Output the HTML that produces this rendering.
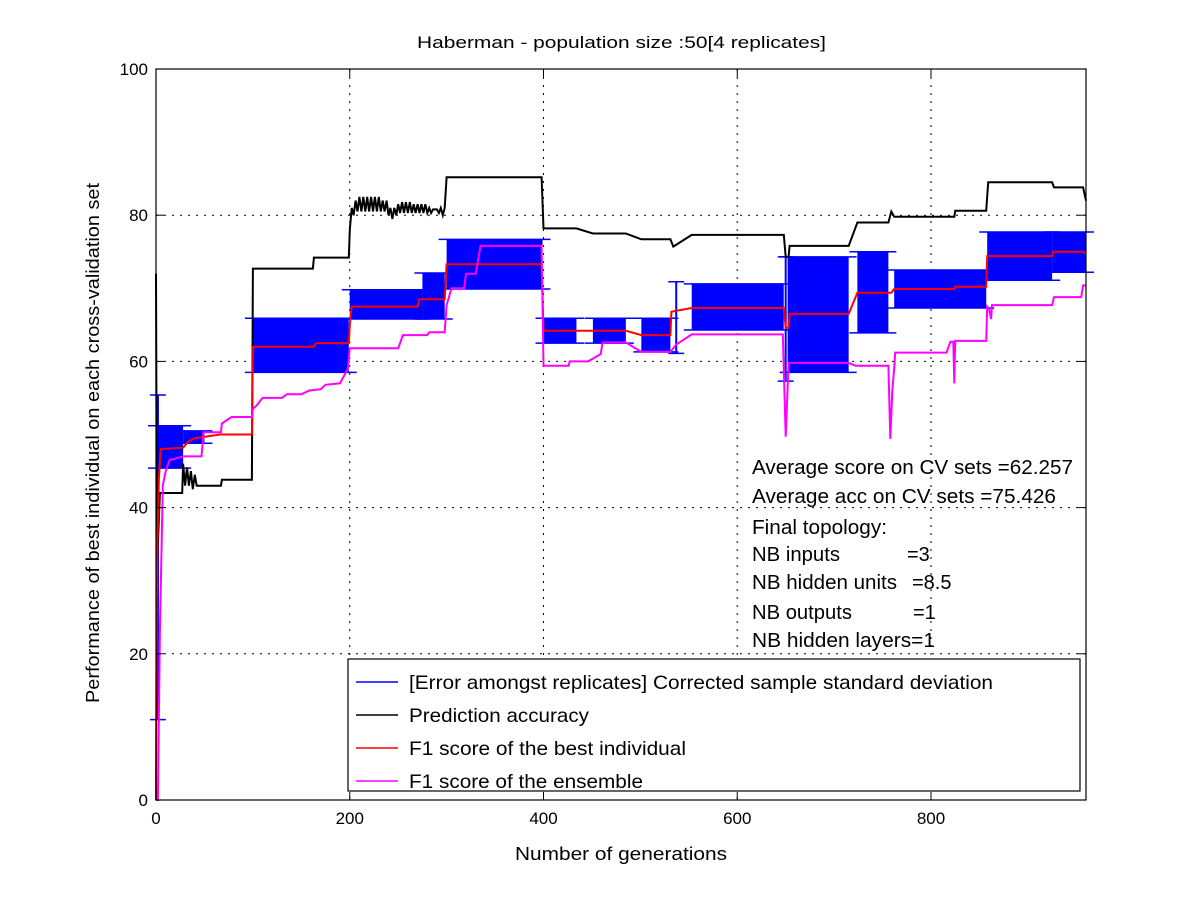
<!DOCTYPE html>
<html><head><meta charset="utf-8"><style>
html,body{margin:0;padding:0;background:#fff;}
svg{display:block;font-family:"Liberation Sans",sans-serif;}
</style></head><body>
<svg id="chart" width="1200" height="900" viewBox="0 0 1200 900" xmlns="http://www.w3.org/2000/svg">
<rect x="0" y="0" width="1200" height="900" fill="#fff"/>
<text x="417" y="48" font-size="17" textLength="409" lengthAdjust="spacingAndGlyphs">Haberman - population size :50[4 replicates]</text>
<g id="grid"></g>
<g id="bands"></g>
<g id="lines"></g>
<rect x="156" y="69" width="930" height="731" fill="none" stroke="#000" stroke-width="1.2"/>
<g id="ticks"></g>
<text x="515" y="860" font-size="18" textLength="212" lengthAdjust="spacingAndGlyphs">Number of generations</text>
<text transform="translate(99,703) rotate(-90)" font-size="18" textLength="520" lengthAdjust="spacingAndGlyphs">Performance of best individual on each cross-validation set</text>
<g font-size="20">
<text x="752" y="474" textLength="321" lengthAdjust="spacingAndGlyphs">Average score on CV sets =62.257</text>
<text x="752" y="503" textLength="304" lengthAdjust="spacingAndGlyphs">Average acc on CV sets =75.426</text>
<text x="752" y="534" textLength="135" lengthAdjust="spacingAndGlyphs">Final topology:</text>
<text x="752" y="561" textLength="88" lengthAdjust="spacingAndGlyphs">NB inputs</text><text x="907" y="561">=3</text>
<text x="752" y="589" textLength="145" lengthAdjust="spacingAndGlyphs">NB hidden units</text><text x="912" y="589">=8.5</text>
<text x="752" y="619" textLength="100" lengthAdjust="spacingAndGlyphs">NB outputs</text><text x="913" y="619">=1</text>
<text x="752" y="647" textLength="183" lengthAdjust="spacingAndGlyphs">NB hidden layers=1</text>
</g>
<g>
<rect x="348" y="659" width="732" height="132" fill="#fff" stroke="#000" stroke-width="1.2"/>
<line x1="356" y1="682" x2="398" y2="682" stroke="#0000ff" stroke-width="1.5"/>
<text x="409" y="689" font-size="19.5" textLength="584" lengthAdjust="spacingAndGlyphs">[Error amongst replicates] Corrected sample standard deviation</text>
<line x1="356" y1="715" x2="398" y2="715" stroke="#000" stroke-width="1.5"/>
<text x="409" y="722" font-size="19.5" textLength="180" lengthAdjust="spacingAndGlyphs">Prediction accuracy</text>
<line x1="356" y1="748" x2="398" y2="748" stroke="#ff0000" stroke-width="1.5"/>
<text x="409" y="755" font-size="19.5" textLength="277" lengthAdjust="spacingAndGlyphs">F1 score of the best individual</text>
<line x1="356" y1="781" x2="398" y2="781" stroke="#ff00ff" stroke-width="1.5"/>
<text x="409" y="788" font-size="19.5" textLength="234" lengthAdjust="spacingAndGlyphs">F1 score of the ensemble</text>
</g>
</svg>
<script>
const xTicks = [0,200,400,600,800];
const yTicks = [0,20,40,60,80,100];
const accuracy = [[0,72],[1,32],[4,42],[27,42],[28,46],[30,43],[32,45.5],[34,43],[36,45],[38,42.5],[40,44.5],[42,43],[67,43],[68,43.8],[99,43.8],[100,72.7],[162,72.7],[163,74.2],[199,74.2],[200,78],[202,81],[204,80],[206,82],[208,80.5],[210,82.5],[212,80.5],[214,82.5],[216,80.5],[218,82.5],[220,80.5],[222,82.5],[224,80.5],[226,82.5],[228,80.5],[230,82.5],[232,80.5],[234,82],[236,80.5],[238,82],[240,80],[242,81],[244,79.5],[246,81],[248,80],[250,81.5],[252,80.3],[254,81.8],[256,80.3],[258,81.8],[260,80.3],[262,81.8],[264,80.3],[266,81.5],[268,80.3],[270,81.5],[272,80.3],[274,81.5],[276,80.3],[278,81.5],[280,80.3],[282,81],[284,80.3],[286,80.8],[290,80.8],[292,80.3],[294,81],[296,80],[298,81],[300,85.2],[398,85.2],[400,78.2],[434,78.2],[451,77.5],[485,77.5],[501,76.7],[531,76.7],[534,75.7],[553,77.3],[648,77.3],[650,74.3],[653,74.3],[654,75.8],[715,75.8],[724,79],[756,79],[759,80.5],[762,79.8],[824,79.8],[825,80.6],[857,80.6],[859,84.5],[925,84.5],[927,83.8],[957,83.8],[960,82]];
const f1Best = [[0,0],[1,33],[3,44],[5,48],[28,48.2],[33,49],[40,49.5],[66,50],[99,50],[100,62],[163,62],[165,62.5],[199,62.5],[200,65],[202,67.5],[270,67.5],[272,68.5],[298,68.5],[300,73.3],[398,73.3],[400,64.2],[485,64.2],[501,63.6],[531,63.6],[532,66.8],[553,67.3],[648,67.3],[650,64.6],[653,64.6],[654,66.5],[715,66.5],[724,69.4],[759,69.4],[762,69.9],[824,69.9],[825,70.2],[857,70.2],[858,74.4],[925,74.4],[926,75],[957,75],[960,74.8]];
const f1Ensemble = [[0,0],[2,0],[4,23],[7,43],[10,45],[14,46.5],[28,47],[47,47],[49,50.3],[67,50.3],[68,51.5],[78,52.4],[99,52.4],[100,53.5],[104,54],[110,55],[130,55],[135,55.5],[150,55.5],[158,56],[170,56.2],[175,56.8],[190,57],[198,59],[200,61.8],[250,61.8],[255,63.6],[280,63.6],[282,64],[298,64],[300,67.7],[305,70],[318,70],[320,72],[330,72],[335,75.8],[398,75.8],[400,59.4],[426,59.4],[427,60],[446,60],[459,61],[461,62.6],[485,62.6],[501,61.3],[531,61.3],[537,62.3],[553,63.7],[647,63.7],[650,49.7],[653,59.8],[715,59.8],[722,59.4],[756,59.4],[758,49.4],[760,56],[762,59],[763,61.2],[816,61.2],[820,62.7],[823,62.7],[824,57],[825,62.8],[857,62.8],[858,67.5],[860,67.2],[862,65.8],[863,67.7],[925,67.7],[927,68.8],[955,68.8],[957,70.4],[960,70.4]];
const bandStart = [0,28,100,200,275,300,400,451,501,553,652,724,762,858,925];
const bandEnd   = [28,50,199,275,298,399,434,485,531,648,715,756,857,925,960];
const bandLow   = [45.4,48.8,58.5,65.8,65.8,69.9,62.5,62.5,61.3,64.3,58.5,63.9,67.3,71.1,72.2];
const bandHigh  = [51.2,50.5,65.9,69.8,72.1,76.7,65.9,65.9,65.9,70.6,74.3,75,72.5,77.7,77.7];
const barGen  = [2,537,650];
const barLow  = [11,61.1,57.3];
const barHigh = [55.4,70.9,74.3];

const NS="http://www.w3.org/2000/svg";
const X0=156,X1=1086,Y0=800,Y1=69,XMAX=960,YMAX=100;
function xs(g){return X0+g*(X1-X0)/XMAX;}
function ys(v){return Y0-v*(Y0-Y1)/YMAX;}
function mk(tag,attrs,parent){const e=document.createElementNS(NS,tag);for(const k in attrs)e.setAttribute(k,attrs[k]);parent.appendChild(e);return e;}
const grid=document.getElementById('grid'),ticks=document.getElementById('ticks'),bands=document.getElementById('bands'),lines=document.getElementById('lines');
xTicks.forEach(t=>{
  const x=xs(t);
  if(t>0){const g=mk('line',{x1:x,y1:Y1,x2:x,y2:Y0,stroke:'#000','stroke-width':1,'stroke-dasharray':'2,6'},grid);
  
  }
  mk('line',{x1:x,y1:Y0,x2:x,y2:Y0-8,stroke:'#000'},ticks);
  mk('line',{x1:x,y1:Y1,x2:x,y2:Y1+8,stroke:'#000'},ticks);
  const l=mk('text',{x:x,y:Y0+24,'font-size':17,'text-anchor':'middle'},ticks);l.textContent=t;
  
  
});
yTicks.forEach(t=>{
  const y=ys(t);
  if(t>0&&t<100){const g=mk('line',{x1:X0,y1:y,x2:X1,y2:y,stroke:'#000','stroke-width':1,'stroke-dasharray':'2,6'},grid);
  
  }
  mk('line',{x1:X0,y1:y,x2:X0+8,y2:y,stroke:'#000'},ticks);
  mk('line',{x1:X1,y1:y,x2:X1-8,y2:y,stroke:'#000'},ticks);
  const l=mk('text',{x:X0-8,y:y+6,'font-size':17,'text-anchor':'end'},ticks);l.textContent=t;
  
  
});
bandStart.forEach((g0,i)=>{
  const xa=xs(g0),xb=xs(bandEnd[i]),yt=ys(bandHigh[i]),yb=ys(bandLow[i]);
  const r=mk('rect',{x:xa,y:yt,width:xb-xa,height:yb-yt,fill:'#0000ff'},bands);
  
  
  mk('line',{x1:xa-8,y1:yt,x2:xb+8,y2:yt,stroke:'#0000ff','stroke-width':1.5},bands);
  mk('line',{x1:xa-8,y1:yb,x2:xb+8,y2:yb,stroke:'#0000ff','stroke-width':1.5},bands);
});
barGen.forEach((g,i)=>{
  const x=xs(g);
  const b=mk('line',{x1:x,y1:ys(barLow[i]),x2:x,y2:ys(barHigh[i]),stroke:'#0000ff','stroke-width':2},bands);
  
  
  mk('line',{x1:x-8,y1:ys(barLow[i]),x2:x+8,y2:ys(barLow[i]),stroke:'#0000ff','stroke-width':1.5},bands);
  mk('line',{x1:x-8,y1:ys(barHigh[i]),x2:x+8,y2:ys(barHigh[i]),stroke:'#0000ff','stroke-width':1.5},bands);
});
function series(data,color,name){
  const p=mk('polyline',{points:data.map(d=>xs(d[0]).toFixed(1)+','+ys(d[1]).toFixed(1)).join(' '),fill:'none',stroke:color,'stroke-width':2},lines);
  
  
}
series(accuracy,'#000','prediction-accuracy-line');
series(f1Best,'#ff0000','f1-best-line');
series(f1Ensemble,'#ff00ff','f1-ensemble-line');
</script>
</body></html>
